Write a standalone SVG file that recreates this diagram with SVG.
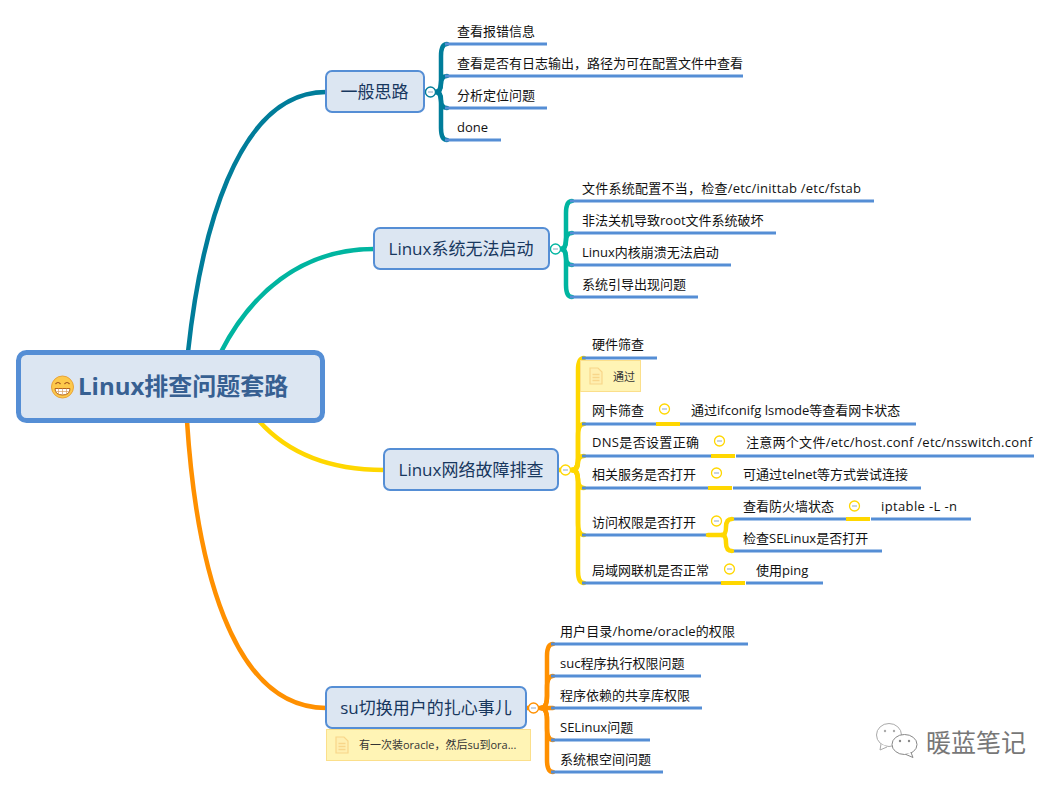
<svg xmlns="http://www.w3.org/2000/svg" width="1062" height="789" viewBox="0 0 1062 789">
<style>
text{font-family:"Open Sans","Noto Sans CJK SC",sans-serif;}
.main{fill:#DCE6F2;stroke:#558ED5;stroke-width:2;}
.mt{font-size:17px;fill:#17375E;text-anchor:middle;}
.t{font-size:13px;fill:#111;}
.u{fill:none;stroke:#558ED5;stroke-width:3;}
.b{fill:none;stroke-width:4.500;stroke-linecap:round;}
.trunk{fill:none;stroke-width:4.500;}
.teal{stroke:#007D9A;}.green{stroke:#00B5A0;}.yel{stroke:#FFD700;}.org{stroke:#FF9000;}
.note{fill:#FFF4B5;stroke:#FBDF8B;stroke-width:1;}
.nt{font-size:11px;fill:#333;}
.ico{fill:#FFEFB0;stroke:#F8D68A;stroke-width:1.200;}
.col{fill:#fff;stroke-width:1.300;}
.mi{stroke:#8FA8C0;stroke-width:1;fill:none;}
</style>
<defs>
<g id="doc"><path class="ico" d="M0 0h8l4 4v12H0z"/><path d="M2.500 6.500h7M2.500 9.500h7M2.500 12.500h7" stroke="#F8D68A" stroke-width="1.500" fill="none"/></g>
</defs>
<g id="connectors">
<path class="trunk teal" d="M188 352C200 240 235 92 326 92"/>
<path class="trunk green" d="M221 352C250 295 300 249 374 249"/>
<path class="trunk yel" d="M259 421C285 450 325 470 384 470"/>
<path class="trunk org" d="M187 421C196 560 230 708 326 708"/>

<path class="b teal" d="M424 92H436"/>
<g class="b teal"><path d="M436 92Q441 92 441 80V56Q441 44 447 44"/><path d="M436 92Q441 92 441 84Q441 76 447 76"/><path d="M436 92Q441 92 441 100Q441 108 447 108"/><path d="M436 92Q441 92 441 104V128Q441 140 447 140"/></g>
<path class="u" d="M445 44H547M445 76H743M445 108H547M445 140H501"/>

<path class="b green" d="M549 249H561"/>
<g class="b green"><path d="M561 249Q566 249 566 237V213Q566 201 572 201"/><path d="M561 249Q566 249 566 241Q566 233 572 233"/><path d="M561 249Q566 249 566 257Q566 265 572 265"/><path d="M561 249Q566 249 566 261V285Q566 297 572 297"/></g>
<path class="u" d="M570 201H874M570 233H776M570 265H731M570 297H698"/>

<path class="b yel" d="M558 470H572"/>
<g class="b yel"><path d="M572 470Q578 470 578 458V370Q578 358 584 358"/><path d="M572 470Q578 470 578 458V436Q578 424 584 424"/><path d="M572 470Q578 470 578 463Q578 456 584 456"/><path d="M572 470Q578 470 578 479Q578 488 584 488"/><path d="M572 470Q578 470 578 482V523Q578 535 584 535"/><path d="M572 470Q578 470 578 482V571Q578 583 584 583"/></g>
<path class="u" d="M582 358H657M582 424H656M680 424H916M582 456H711M736 456H1034M582 488H708M733 488H921M582 535H708M582 583H721M746 583H823M731 519H846M871 519H971M731 551H882"/>
<path d="M656 424H680M711 456H735M708 488H732M721 583H745M846 519H870" fill="none" stroke="#FFD700" stroke-width="4"/>
<path class="b yel" d="M708 535H722"/>
<g class="b yel"><path d="M722 535Q726 535 726 527Q726 519 732 519"/><path d="M722 535Q726 535 726 543Q726 551 732 551"/></g>

<path class="b org" d="M526 708H553"/>
<g class="b org"><path d="M541 708Q547 708 547 696V656Q547 644 553 644"/><path d="M541 708Q547 708 547 696V688Q547 676 553 676"/><path d="M541 708Q547 708 547 720V728Q547 740 553 740"/><path d="M541 708Q547 708 547 720V760Q547 772 553 772"/></g>
<path class="u" d="M551 644H748M551 676H701M551 708H702M551 740H650M551 772H663"/>
</g>

<g id="root">
<rect x="18.500" y="352.500" width="304" height="68" rx="8" fill="#DCE6F2" stroke="#558ED5" stroke-width="5"/>
<circle cx="62.500" cy="387" r="11" fill="#FDC94B" stroke="#E8A33A" stroke-width="1"/>
<path d="M55 388.500h15q0 6.500-7.500 6.500t-7.500-6.500z" fill="#fff" stroke="#B5651D" stroke-width="1"/>
<path d="M58.500 388.500v6M62.500 388.500v6.500M66.500 388.500v6M55.500 391.500h14" fill="none" stroke="#D9A066" stroke-width="0.700"/>
<path d="M55.500 384q2.500-3 5 0M64.500 384q2.500-3 5 0" fill="none" stroke="#A0521D" stroke-width="1.200"/>
<text x="78" y="395" font-size="24" font-weight="700" fill="#376092">Linux排查问题套路</text>
</g>

<g id="n1">
<rect class="main" x="326" y="71" width="98" height="41" rx="6"/>
<text class="mt" x="374.500" y="98">一般思路</text>
<circle class="col teal" cx="430.500" cy="92" r="5"/><path class="mi" d="M428 92h5"/>
</g>
<g id="n1a"><text class="t" x="457" y="35.500">查看报错信息</text></g>
<g id="n1b"><text class="t" x="457" y="67.500">查看是否有日志输出，路径为可在配置文件中查看</text></g>
<g id="n1c"><text class="t" x="457" y="99.500">分析定位问题</text></g>
<g id="n1d"><text class="t" x="457" y="131.500">done</text></g>

<g id="n2">
<rect class="main" x="374" y="228" width="175" height="41" rx="6"/>
<text class="mt" x="461" y="255">Linux系统无法启动</text>
<circle class="col green" cx="555.500" cy="249" r="5"/><path class="mi" d="M553 249h5"/>
</g>
<g id="n2a"><text class="t" x="582" y="193" textLength="279">文件系统配置不当，检查/etc/inittab /etc/fstab</text></g>
<g id="n2b"><text class="t" x="582" y="225">非法关机导致root文件系统破坏</text></g>
<g id="n2c"><text class="t" x="582" y="257">Linux内核崩溃无法启动</text></g>
<g id="n2d"><text class="t" x="582" y="289">系统引导出现问题</text></g>

<g id="n3">
<rect class="main" x="384" y="449" width="174" height="41" rx="6"/>
<text class="mt" x="471" y="476">Linux网络故障排查</text>
<circle class="col yel" cx="565.500" cy="470" r="5"/><path class="mi" d="M563 470h5"/>
</g>
<g id="n3a"><text class="t" x="592" y="349">硬件筛查</text>
<rect class="note" x="580.500" y="360.500" width="60" height="31"/><use href="#doc" x="590" y="368"/><text class="nt" x="613" y="381">通过</text></g>
<g id="n3b"><text class="t" x="592" y="415">网卡筛查</text><circle class="col yel" cx="664.500" cy="409" r="5"/><path class="mi" d="M662 409h5"/><text class="t" x="691" y="415">通过ifconifg lsmode等查看网卡状态</text></g>
<g id="n3c"><text class="t" x="592" y="447" textLength="107">DNS是否设置正确</text><circle class="col yel" cx="719.500" cy="441" r="5"/><path class="mi" d="M717 441h5"/><text class="t" x="746" y="447" textLength="286">注意两个文件/etc/host.conf /etc/nsswitch.conf</text></g>
<g id="n3d"><text class="t" x="592" y="479">相关服务是否打开</text><circle class="col yel" cx="716.500" cy="473" r="5"/><path class="mi" d="M714 473h5"/><text class="t" x="743" y="479">可通过telnet等方式尝试连接</text></g>
<g id="n3e"><text class="t" x="592" y="527">访问权限是否打开</text><circle class="col yel" cx="716.500" cy="521" r="5"/><path class="mi" d="M714 521h5"/></g>
<g id="n3e1"><text class="t" x="743" y="511">查看防火墙状态</text><circle class="col yel" cx="854.500" cy="506" r="5"/><path class="mi" d="M852 506h5"/><text class="t" x="881" y="511" textLength="76">iptable -L -n</text></g>
<g id="n3e2"><text class="t" x="743" y="543">检查SELinux是否打开</text></g>
<g id="n3f"><text class="t" x="592" y="575">局域网联机是否正常</text><circle class="col yel" cx="729.500" cy="569" r="5"/><path class="mi" d="M727 569h5"/><text class="t" x="756" y="575">使用ping</text></g>

<g id="n4">
<rect class="main" x="326" y="687" width="200" height="41" rx="6"/>
<text class="mt" x="426" y="714">su切换用户的扎心事儿</text>
<circle class="col org" cx="533.500" cy="708" r="5"/><path class="mi" d="M531 708h5"/>
<rect class="note" x="326.500" y="729.500" width="204" height="31"/><use href="#doc" x="336" y="737"/><text class="nt" x="359" y="749">有一次装oracle，然后su到ora...</text>
</g>
<g id="n4a"><text class="t" x="560" y="635.500" textLength="175">用户目录/home/oracle的权限</text></g>
<g id="n4b"><text class="t" x="560" y="667.500">suc程序执行权限问题</text></g>
<g id="n4c"><text class="t" x="560" y="699.500">程序依赖的共享库权限</text></g>
<g id="n4d"><text class="t" x="560" y="731.500">SELinux问题</text></g>
<g id="n4e"><text class="t" x="560" y="763.500">系统根空间问题</text></g>

<g id="watermark">
<ellipse cx="889" cy="735" rx="12.500" ry="11.500" fill="#fff" stroke="#aaa" stroke-width="1"/>
<path d="M881 744l-1 6 7-3" fill="#fff" stroke="#aaa" stroke-width="1"/>
<circle cx="885" cy="731" r="1.200" fill="#aaa"/><circle cx="894" cy="731" r="1.200" fill="#aaa"/>
<ellipse cx="904.500" cy="744.500" rx="12.500" ry="10" fill="#fff" stroke="#888" stroke-width="1"/>
<path d="M911 752.500l2 5-7-3" fill="#fff" stroke="#888" stroke-width="1"/>
<circle cx="900" cy="741" r="1.200" fill="#888"/><circle cx="909" cy="741" r="1.200" fill="#888"/>
<text x="926" y="752" font-size="25" fill="#777">暖蓝笔记</text>
</g>
</svg>
